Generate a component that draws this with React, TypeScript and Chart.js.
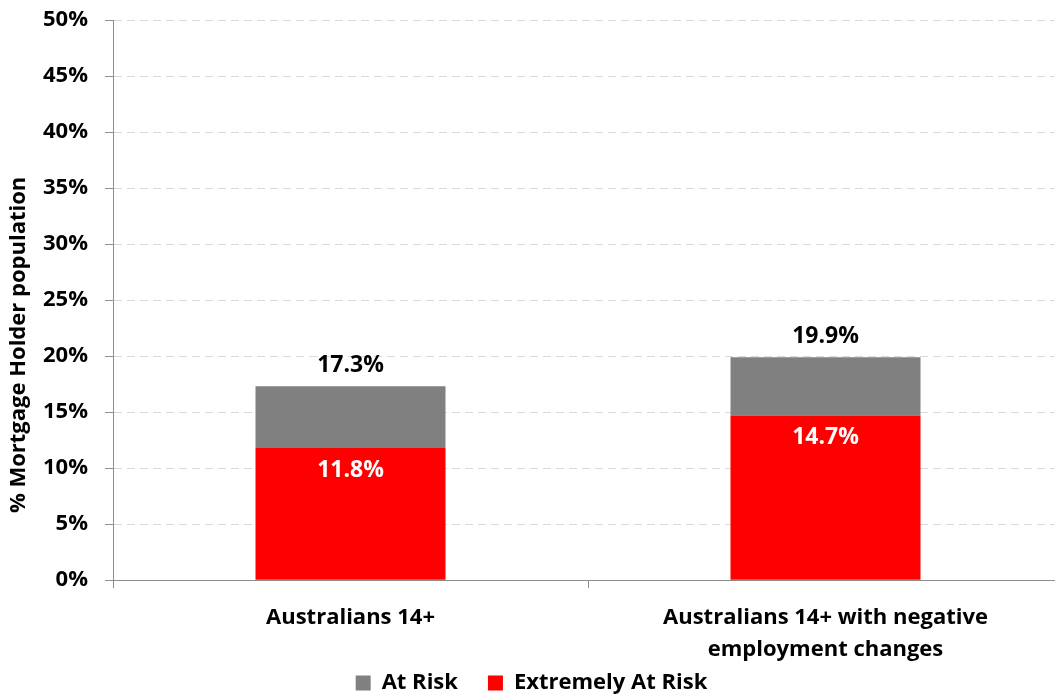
import React, { useEffect, useRef } from "react";
import { Chart, registerables } from "chart.js";

Chart.register(...registerables);

const categories: (string | string[])[] = [
  "Australians 14+",
  ["Australians 14+ with negative", "employment changes"],
];
const extremelyAtRisk = [11.8, 14.7];
const atRisk = [5.5, 5.2];
const totals = [17.3, 19.9];
const yTicks = [0, 5, 10, 15, 20, 25, 30, 35, 40, 45, 50];
const yTitle = "% Mortgage Holder population";

const FONT = "'Open Sans', sans-serif";

const labelPlugin = {
  id: "barLabels",
  afterDatasetsDraw(chart: any) {
    const ctx = chart.ctx;
    ctx.save();
    ctx.font = `bold 23px ${FONT}`;
    ctx.textAlign = "center";
    ctx.textBaseline = "middle";
    const redMeta = chart.getDatasetMeta(0);
    const grayMeta = chart.getDatasetMeta(1);
    redMeta.data.forEach((bar: any, i: number) => {
      ctx.fillStyle = "#ffffff";
      ctx.fillText(extremelyAtRisk[i].toFixed(1) + "%", bar.x, bar.y + 22);
    });
    grayMeta.data.forEach((bar: any, i: number) => {
      ctx.fillStyle = "#000000";
      ctx.fillText(totals[i].toFixed(1) + "%", bar.x, bar.y - 21);
    });
    // y axis title
    const area = chart.chartArea;
    ctx.translate(19, area.top + (area.bottom - area.top) * 0.58);
    ctx.rotate(-Math.PI / 2);
    ctx.fillStyle = "#000";
    ctx.font = `bold 22px ${FONT}`;
    ctx.fillText(yTitle, 0, 0);
    ctx.restore();
  },
};

export default function App() {
  const ref = useRef<HTMLCanvasElement | null>(null);
  useEffect(() => {
    if (!ref.current) return;
    const chart = new Chart(ref.current, {
      type: "bar",
      data: {
        labels: categories,
        datasets: [
          {
            label: "Extremely At Risk",
            data: extremelyAtRisk,
            backgroundColor: "#ff0000",
            barPercentage: 0.4,
            categoryPercentage: 1,
          },
          {
            label: "At Risk",
            data: atRisk,
            backgroundColor: "#808080",
            barPercentage: 0.4,
            categoryPercentage: 1,
          },
        ],
      },
      options: {
        responsive: false,
        animation: false,
        devicePixelRatio: 1,
        layout: { padding: { top: 20, right: 12, left: 0, bottom: 0 } },
        plugins: {
          tooltip: { enabled: false },
          legend: {
            position: "bottom",
            reverse: true,
            labels: {
              boxWidth: 15,
              boxHeight: 15,
              padding: 30,
              color: "#000",
              font: { family: FONT, size: 22, weight: "bold" },
            },
          },
        },
        scales: {
          x: {
            stacked: true,
            afterFit: (s: any) => {
              s.height -= 38;
              s._computeLabelArea = () => undefined;
            },
            grid: {
              offset: true,
              drawOnChartArea: false,
              drawTicks: true,
              tickLength: 8,
              tickColor: "#8c8c8c",
            },
            border: { color: "#8c8c8c", width: 1 },
            ticks: {
              color: "#000",
              padding: 14,
              maxRotation: 0,
              font: { family: FONT, size: 22, weight: "bold", lineHeight: 1.45 },
            },
          },
          y: {
            stacked: true,
            min: 0,
            max: 50,
            afterFit: (s: any) => {
              s.width = 113;
              s.paddingTop = 12;
            },
            afterBuildTicks: (s: any) => {
              s.ticks = yTicks.map((v) => ({ value: v }));
            },
            grid: {
              color: "#d9d9d9",
              lineWidth: 1,
              tickLength: 8,
              tickColor: "#8c8c8c",
              tickBorderDash: [],
            },
            border: { color: "#8c8c8c", width: 1, dash: [8, 5] },
            ticks: {
              color: "#000",
              padding: 17,
              font: { family: FONT, size: 22, weight: "bold" },
              callback: (v: any) => v + "%",
            },
            title: { display: false },
          },
        },
      },
      plugins: [labelPlugin],
    } as any);
    return () => chart.destroy();
  }, []);
  return (
    <div
      style={{
        position: "fixed",
        left: 0,
        top: 0,
        width: 1055,
        height: 695,
        overflow: "hidden",
        background: "#fff",
      }}
    >
      <canvas ref={ref} width={1075} height={704} style={{ width: 1075, height: 704 }} />
    </div>
  );
}
